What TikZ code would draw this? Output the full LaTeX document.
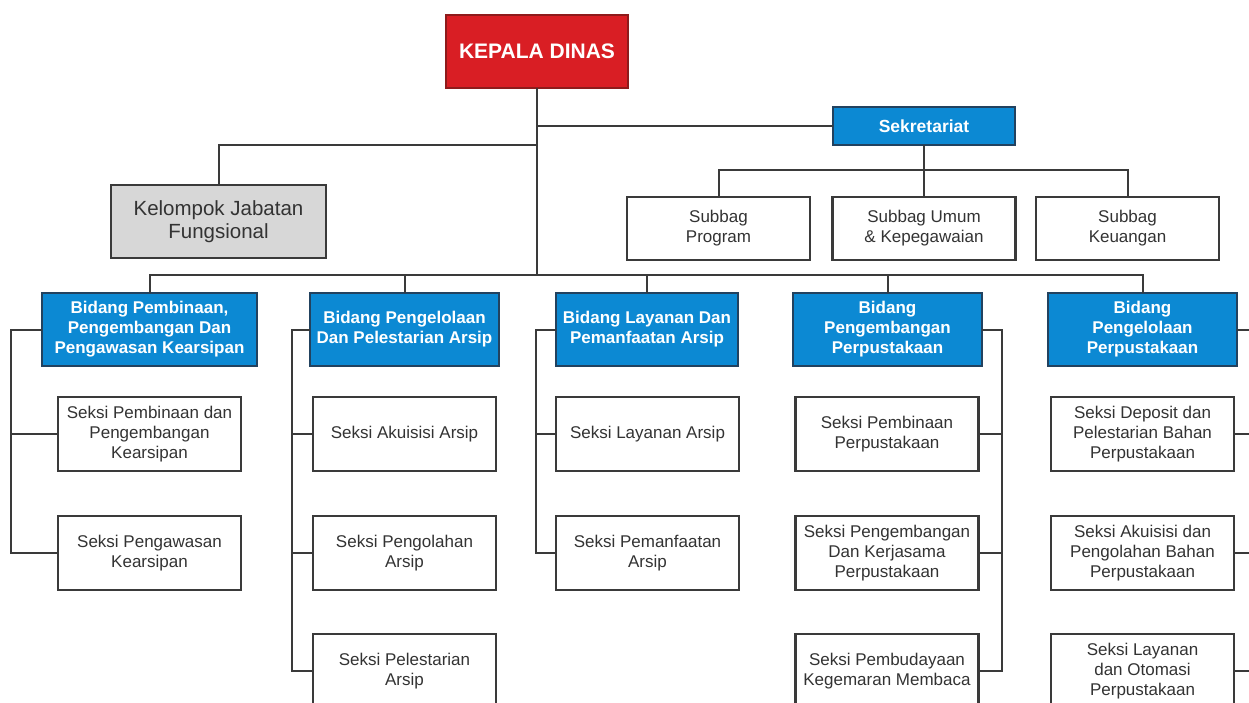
\documentclass[tikz,border=0pt]{standalone}
\usepackage{fontspec}
\setmainfont{Liberation Sans}
\definecolor{kdred}{HTML}{D91E24}
\definecolor{kdborder}{HTML}{8E1B1B}
\definecolor{bblue}{HTML}{0C89D3}
\definecolor{bborder}{HTML}{22425F}
\definecolor{kgray}{HTML}{D7D7D7}
\definecolor{lncol}{HTML}{3A3A3A}
\definecolor{txtcol}{HTML}{333333}
\tikzset{
  box/.style={draw=lncol, line width=2.2pt, inner sep=0pt, outer sep=0pt, align=center, text=txtcol},
  headbox/.style={box, fill=kdred, draw=kdborder, text=white, font=\bfseries\fontsize{21}{24}\selectfont},
  bluebox/.style={box, fill=bblue, draw=bborder, text=white, font=\bfseries\fontsize{17}{20}\selectfont},
  graybox/.style={box, fill=kgray, font=\fontsize{20.5}{23}\selectfont},
  whitebox/.style={box, fill=white, font=\fontsize{17}{20}\selectfont},
  seksibox/.style={whitebox, minimum width=183pt, minimum height=74pt},
  bidbox/.style={bluebox, minimum height=73pt},
  conn/.style={draw=lncol, line width=2pt}
}
\begin{document}
\begin{tikzpicture}[x=1pt,y=-1pt]
\useasboundingbox (0,0) rectangle (1249,702);
\fill[white] (0,0) rectangle (1249,702);
\clip (0,0) rectangle (1249,702);

% top level
\node[headbox, minimum width=182pt, minimum height=73pt] (kd) at (537,51.5) {KEPALA DINAS};
\node[bluebox, minimum width=182pt, minimum height=38pt, font=\bfseries\fontsize{17.5}{20}\selectfont] (sek) at (924,126) {Sekretariat};
\node[graybox, minimum width=215pt, minimum height=73pt] (kjf) at (218.5,221.5) {Kelompok Jabatan\\Fungsional};

% subbag
\node[whitebox, minimum width=183pt, minimum height=63pt] (sb1) at (718.5,228.5) {Subbag\\Program};
\node[whitebox, minimum width=183pt, minimum height=63pt] (sb2) at (924,228.5) {Subbag Umum\\\& Kepegawaian};
\node[whitebox, minimum width=183pt, minimum height=63pt] (sb3) at (1127.5,228.5) {Subbag\\Keuangan};

% bidang
\node[bidbox, minimum width=215pt] (b1) at (149.5,329.5) {Bidang Pembinaan,\\Pengembangan Dan\\Pengawasan Kearsipan};
\node[bidbox, minimum width=189pt] (b2) at (404.5,329.5) {Bidang Pengelolaan\\Dan Pelestarian Arsip};
\node[bidbox, minimum width=182pt] (b3) at (647,329.5) {Bidang Layanan Dan\\Pemanfaatan Arsip};
\node[bidbox, minimum width=189pt] (b4) at (887.5,329.5) {Bidang\\Pengembangan\\Perpustakaan};
\node[bidbox, minimum width=189pt] (b5) at (1142.5,329.5) {Bidang\\Pengelolaan\\Perpustakaan};

% seksi
\node[seksibox] (s11) at (149.5,434) {Seksi Pembinaan dan\\Pengembangan\\Kearsipan};
\node[seksibox] (s12) at (149.5,553) {Seksi Pengawasan\\Kearsipan};
\node[seksibox] (s21) at (404.5,434) {Seksi Akuisisi Arsip};
\node[seksibox] (s22) at (404.5,553) {Seksi Pengolahan\\Arsip};
\node[seksibox] (s23) at (404.5,671) {Seksi Pelestarian\\Arsip};
\node[seksibox] (s31) at (647.5,434) {Seksi Layanan Arsip};
\node[seksibox] (s32) at (647.5,553) {Seksi Pemanfaatan\\Arsip};
\node[seksibox] (s41) at (887,434) {Seksi Pembinaan\\Perpustakaan};
\node[seksibox] (s42) at (887,553) {Seksi Pengembangan\\Dan Kerjasama\\Perpustakaan};
\node[seksibox] (s43) at (887,671) {Seksi Pembudayaan\\Kegemaran Membaca};
\node[seksibox] (s51) at (1142.5,434) {Seksi Deposit dan\\Pelestarian Bahan\\Perpustakaan};
\node[seksibox] (s52) at (1142.5,553) {Seksi Akuisisi dan\\Pengolahan Bahan\\Perpustakaan};
\node[seksibox] (s53) at (1142.5,671) {Seksi Layanan\\dan Otomasi\\Perpustakaan};

% helper coordinates
\coordinate (bus) at (0,275);
\coordinate (kjy) at (0,145);
\coordinate (sbus) at (0,170);
\coordinate (v1) at (11,0);
\coordinate (v2) at (292,0);
\coordinate (v3) at (536,0);
\coordinate (v4) at (1002,0);
\coordinate (v5) at (1254,0);

% connectors top
\draw[conn] (kd.south) -- (kd.south |- bus);
\draw[conn] (kd.south |- sek.west) -- (sek.west);
\draw[conn] (kd.south |- kjy) -| (kjf.north);
\draw[conn] (sek.south) -- (sb2.north);
\draw[conn] (sb1.north) -- (sb1.north |- sbus) -- (sb3.north |- sbus) -- (sb3.north);

% bidang bus
\draw[conn] (b1.north) -- (b1.north |- bus) -- (b5.north |- bus) -- (b5.north);
\draw[conn] (b2.north) -- (b2.north |- bus);
\draw[conn] (b3.north) -- (b3.north |- bus);
\draw[conn] (b4.north) -- (b4.north |- bus);

% bidang 1
\draw[conn] (b1.west) -- (b1.west -| v1) |- (s12.west);
\draw[conn] (s11.west) -- (s11.west -| v1);
% bidang 2
\draw[conn] (b2.west) -- (b2.west -| v2) |- (s23.west);
\draw[conn] (s21.west) -- (s21.west -| v2);
\draw[conn] (s22.west) -- (s22.west -| v2);
% bidang 3
\draw[conn] (b3.west) -- (b3.west -| v3) |- (s32.west);
\draw[conn] (s31.west) -- (s31.west -| v3);
% bidang 4
\draw[conn] (b4.east) -- (b4.east -| v4) |- (s43.east);
\draw[conn] (s41.east) -- (s41.east -| v4);
\draw[conn] (s42.east) -- (s42.east -| v4);
% bidang 5
\draw[conn] (b5.east) -- (b5.east -| v5) |- (s53.east);
\draw[conn] (s51.east) -- (s51.east -| v5);
\draw[conn] (s52.east) -- (s52.east -| v5);
\end{tikzpicture}
\end{document}
